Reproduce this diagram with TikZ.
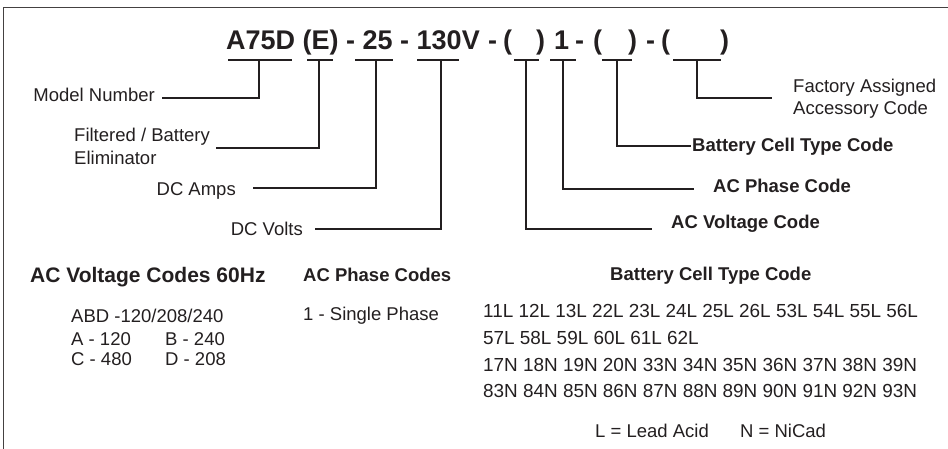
\documentclass[tikz,border=0pt]{standalone}
\usepackage{fontspec}
\setmainfont{Liberation Sans}
\definecolor{inkc}{HTML}{231F20}
\begin{document}
\begin{tikzpicture}[x=1pt,y=-1pt,
  ink/.style={draw=inkc, line width=1.5pt},
  ul/.style={draw=inkc, line width=1.1pt},
  frame/.style={draw=inkc!85, line width=1.6pt},
  lab/.style={inner sep=0pt, text=inkc, font=\fontsize{18.5}{22}\selectfont, anchor=base west},
  blab/.style={lab, font=\bfseries\fontsize{18.5}{22}\selectfont},
  code/.style={lab, font=\fontsize{18.9}{22}\selectfont},
  ttl/.style={inner sep=0pt, text=inkc, font=\bfseries\fontsize{27}{31}\selectfont, anchor=base west}]
\useasboundingbox (0,0) rectangle (948,449);
\draw[frame] (3.5,449) -- (3.5,7.5) -- (948,7.5);

% title
\node[ttl] (t1) at (226,50) {A75D (E) - 25 - 130V};
\node[ttl] (t2) at (488,50) {-};
\node[ttl] (t3) at (503,50) {(};
\node[ttl] (t4) at (536,50) {)};
\node[ttl] (t5) at (554,50) {1};
\node[ttl] (t6) at (575,50) {-};
\node[ttl] (t7) at (593,50) {(};
\node[ttl] (t8) at (628,50) {)};
\node[ttl] (t9) at (646,50) {-};
\node[ttl] (t10) at (661,50) {(};
\node[ttl] (t11) at (720,50) {)};

% underlines and connector ends
\coordinate (u1a) at (228,60); \coordinate (u1b) at (292,60); \coordinate (u1m) at (259,60); \coordinate (c1) at (162,98);
\coordinate (u2a) at (307,60); \coordinate (u2b) at (333,60); \coordinate (u2m) at (319,60); \coordinate (c2) at (216,148);
\coordinate (u3a) at (355,60); \coordinate (u3b) at (393,60); \coordinate (u3m) at (376,60); \coordinate (c3) at (253,188);
\coordinate (u4a) at (417,60); \coordinate (u4b) at (459,60); \coordinate (u4m) at (441,60); \coordinate (c4) at (315,229);
\coordinate (u5a) at (514,60); \coordinate (u5b) at (539,60); \coordinate (u5m) at (526,60); \coordinate (c5) at (652,229);
\coordinate (u6a) at (550,60); \coordinate (u6b) at (576,60); \coordinate (u6m) at (563,60); \coordinate (c6) at (694,189);
\coordinate (u7a) at (602,60); \coordinate (u7b) at (632,60); \coordinate (u7m) at (617,60); \coordinate (c7) at (691,146);
\coordinate (u8a) at (673,60); \coordinate (u8b) at (721,60); \coordinate (u8m) at (697,60); \coordinate (c8) at (772,98);

\foreach \i in {1,...,8} {
  \draw[ul] (u\i a) -- (u\i b);
  \draw[ink] (u\i m) |- (c\i);
}

% labels
\node[lab, anchor=base east] (l1) at (155,102) {Model Number};
\node[lab] (l2) at (74,142) {Filtered / Battery};
\node[lab] (l2b) at (74,165) {Eliminator};
\node[lab, anchor=base east] (l3) at (236,196) {DC Amps};
\node[lab, anchor=base east] (l4) at (303,236) {DC Volts};
\node[blab] (l5) at (671,229) {AC Voltage Code};
\node[blab] (l6) at (713,193) {AC Phase Code};
\node[blab] (l7) at (692,152) {Battery Cell Type Code};
\node[lab] (l8) at (793,93) {Factory Assigned};
\node[lab] (l8b) at (793,115) {Accessory Code};

% lower tables
\node[lab, font=\bfseries\fontsize{21}{24}\selectfont] (h1) at (30,282) {AC Voltage Codes 60Hz};
\node[lab] (v0) at (71,322) {ABD -120/208/240};
\node[lab] (v1) at (71,345) {A - 120};
\node[lab] (v2) at (165,345) {B - 240};
\node[lab] (v3) at (71,365) {C - 480};
\node[lab] (v4) at (165,365) {D - 208};

\node[blab] (h2) at (303,281) {AC Phase Codes};
\node[lab] (p1) at (303,320) {1 - Single Phase};

\node[blab] (h3) at (610,280) {Battery Cell Type Code};
\node[code] (b1) at (483,317) {11L 12L 13L 22L 23L 24L 25L 26L 53L 54L 55L 56L};
\node[code] (b2) at (483,344) {57L 58L 59L 60L 61L 62L};
\node[code] (b3) at (483,371) {17N 18N 19N 20N 33N 34N 35N 36N 37N 38N 39N};
\node[code] (b4) at (483,397) {83N 84N 85N 86N 87N 88N 89N 90N 91N 92N 93N};
\node[lab] (k1) at (595,437) {L = Lead Acid};
\node[lab] (k2) at (740,437) {N = NiCad};
\end{tikzpicture}
\end{document}
